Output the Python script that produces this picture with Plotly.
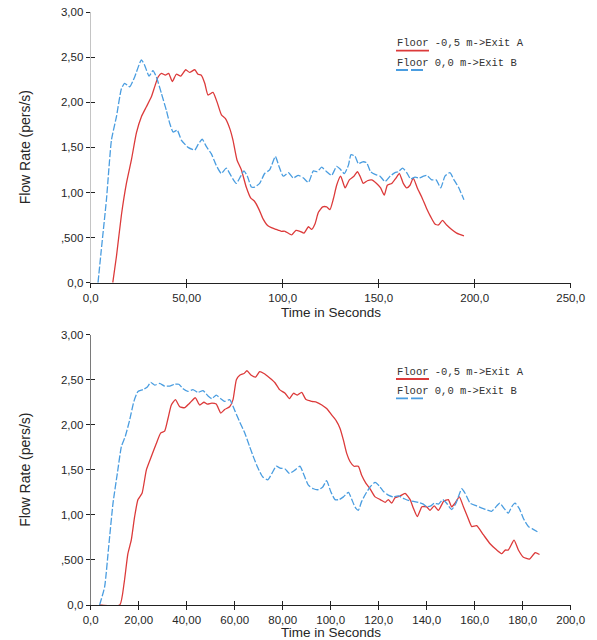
import plotly.graph_objects as go

W, H = 597, 640

# ---------------- data ----------------
top_blue_t = [3.8, 5.5, 8.2, 10.8, 13.4, 16, 17.7, 20.3, 22.9, 26.4, 28.1, 30.4, 32.4, 34.2, 36.8, 39.4, 41.1, 42.9, 45.1, 47.2,
              50.7, 54.2, 55.9, 58.1, 60.2, 62.8, 65.4, 68, 70.6, 73.2, 75.8, 77.6, 79.8, 81.6, 83.7, 85.4, 88, 90.6, 93.2, 96.2,
              97.9, 100.3, 103, 105.5, 108.1, 110.8, 113.4, 116, 118, 120.3, 122.9, 125.5, 128.1, 129.9, 132.1, 134.2, 135.6, 137.7,
              139.4, 141.7, 143.7, 145.8, 148.1, 150.7, 153.3, 155.9, 158.5, 160.2, 162.5, 164.6, 166.7, 168.9, 171.2, 173.3, 175,
              177.6, 179.9, 182.3, 184.5, 187.1, 189.2, 191.5, 194.4]
top_blue_v = [0, 0.36, 0.92, 1.58, 1.84, 2.15, 2.21, 2.17, 2.28, 2.47, 2.41, 2.29, 2.35, 2.28, 2.10, 1.91, 1.77, 1.67, 1.69, 1.58,
              1.50, 1.47, 1.53, 1.59, 1.51, 1.43, 1.30, 1.21, 1.27, 1.18, 1.10, 1.16, 1.24, 1.18, 1.06, 1.06, 1.10, 1.21, 1.25, 1.40,
              1.30, 1.18, 1.22, 1.16, 1.19, 1.16, 1.11, 1.24, 1.23, 1.28, 1.23, 1.19, 1.29, 1.26, 1.21, 1.30, 1.42, 1.40,
              1.32, 1.34, 1.33, 1.23, 1.20, 1.18, 1.12, 1.18, 1.22, 1.23, 1.27, 1.22, 1.15, 1.17, 1.16, 1.18, 1.19,
              1.14, 1.14, 1.05, 1.18, 1.22, 1.14, 1.06, 0.92]

top_red_t = [11.5, 13.4, 16, 18.6, 21.2, 23.8, 26.4, 29, 31.6, 33.3, 35.1, 36.8, 38.9, 40.6, 42.5, 44.6, 46.9, 49.5, 51.5, 54.2,
             55.9, 57.6, 59.4, 61.1, 63.7, 66, 68.1, 70.1, 72.4, 74.1, 76.2, 78.5, 81, 83.3, 85.4, 87.7, 89.7, 92.3, 94.1, 96.6,
             99.3, 101.2, 104.7, 106.9, 109, 111.1, 113.4, 115.1, 116.8, 118.6, 120.8, 122.9, 124.6, 126.4, 128.1, 130.2, 132.5,
             134.7, 137.1, 138.9, 140.3, 142, 144.1, 146.3, 148.9, 151, 152.9, 154.5, 156.8, 159, 160.8, 162.8, 164.6, 166.3,
             168, 170.1, 172.4, 175, 177.1, 179.3, 181.1, 183.2, 185.4, 188, 190.6, 194.4]
top_red_v = [0, 0.29, 0.75, 1.10, 1.36, 1.66, 1.84, 1.95, 2.06, 2.17, 2.28, 2.32, 2.30, 2.32, 2.23, 2.31, 2.29, 2.36, 2.33, 2.36,
             2.31, 2.30, 2.21, 2.08, 2.11, 1.99, 1.86, 1.82, 1.71, 1.58, 1.36, 1.25, 1.06, 0.94, 0.90, 0.81, 0.71, 0.63, 0.61, 0.59,
             0.57, 0.57, 0.53, 0.58, 0.57, 0.55, 0.62, 0.59, 0.65, 0.78, 0.84, 0.84, 0.81, 0.93, 1.08, 1.18, 1.05,
             1.14, 1.18, 1.23, 1.18, 1.10, 1.13, 1.14, 1.10, 1.05, 0.97, 1.08, 1.10, 1.16, 1.21, 1.10, 1.05, 1.08,
             1.16, 1.05, 0.95, 0.82, 0.73, 0.65, 0.64, 0.69, 0.64, 0.59, 0.55, 0.52]

bot_blue_t = [3.7, 5.8, 7.5, 9.3, 11.1, 12.8, 14.4, 16.2, 18.0, 19.7, 21.8, 23.6, 25, 26.7, 28.7, 30.8, 32.9, 35, 36.7, 38.5,
              40.5, 42.6, 44.7, 46.8, 48.9, 50.5, 52.3, 54.2, 55.8, 57.9, 60, 62.1, 64.2, 66.2, 68, 69.7, 71.7, 73.8, 75.5, 77.3,
              78.9, 81, 82.8, 85.2, 87.2, 88.9, 90.7, 92.8, 94.9, 96.7, 98.3, 100, 101.8, 103.6, 105.3, 107.4, 108.8, 110.1,
              111.5, 112.9, 114.7, 116.4, 118.5, 120.3, 122, 124, 126.1, 128.2, 130.6, 132.4, 134.5, 136.5, 138.6, 140, 141.7,
              143.1, 144.9, 146.7, 148.3, 150.4, 152.2, 154.6, 156, 158.1, 160.8, 163.6, 167, 169.2, 170.5, 172.3, 174, 175.4,
              176.8, 178.6, 180.3, 182.4, 184.4, 187]
bot_blue_v = [0, 0.2, 0.65, 1.13, 1.46, 1.76, 1.87, 2.05, 2.26, 2.37, 2.39, 2.42, 2.47, 2.44, 2.46, 2.43, 2.43, 2.45, 2.45, 2.40,
              2.37, 2.39, 2.36, 2.38, 2.32, 2.29, 2.33, 2.29, 2.26, 2.28, 2.16, 2.03, 1.91, 1.76, 1.63, 1.52, 1.42, 1.39, 1.46, 1.54,
              1.52, 1.51, 1.46, 1.50, 1.54, 1.44, 1.33, 1.29, 1.28, 1.31, 1.38, 1.26, 1.17, 1.17, 1.20, 1.25, 1.17, 1.09,
              1.05, 1.15, 1.24, 1.31, 1.36, 1.32, 1.26, 1.22, 1.20, 1.21, 1.18, 1.16, 1.15, 1.14, 1.12, 1.09, 1.10,
              1.13, 1.12, 1.17, 1.13, 1.06, 1.13, 1.29, 1.24, 1.13, 1.10, 1.07, 1.04, 1.10, 1.13, 1.07, 1.02, 1.09,
              1.13, 1.07, 0.96, 0.87, 0.84, 0.80]

bot_red_t = [3.7, 12.1, 13.9, 15.5, 16.9, 18.3, 19.7, 21.4, 23.2, 25.3, 27.3, 29.2, 30.8, 32.2, 33.6, 35.3, 37.1, 39.2, 41.2, 43.6,
             45.4, 47.2, 48.6, 50.5, 52.3, 54.2, 55.8, 57.9, 59.3, 60.7, 62.1, 63.9, 65.1, 66.9, 68.7, 70.4, 72.2, 74.6, 76.7, 78.7,
             81, 82.8, 84.5, 86.1, 87.9, 89.7, 92.1, 94.2, 96.3, 98.3, 100.4, 102.2, 103.9, 105.3, 106.7, 108.1, 109.7, 111.5,
             112.9, 114.7, 116.4, 118.5, 120.6, 122.7, 124, 125.4, 126.8, 128.9, 131, 133.1, 134.5, 136.1, 138, 140, 141.4,
             143.1, 144.9, 147, 149, 150.4, 151.8, 153.6, 155.3, 157, 158.8, 160.8, 163.6, 166.4, 169.2, 171.3, 172.7, 174,
             176.4, 178.2, 180.3, 182.8, 185.2, 187]
bot_red_v = [0, 0, 0.24, 0.57, 0.72, 0.98, 1.17, 1.24, 1.50, 1.65, 1.79, 1.91, 1.93, 2.07, 2.22, 2.28, 2.20, 2.19, 2.24, 2.30,
             2.22, 2.25, 2.23, 2.24, 2.23, 2.13, 2.17, 2.20, 2.28, 2.50, 2.55, 2.57, 2.60, 2.55, 2.53, 2.59, 2.57, 2.52, 2.47, 2.39,
             2.35, 2.29, 2.35, 2.33, 2.36, 2.28, 2.26, 2.25, 2.22, 2.18, 2.11, 2.05, 1.96, 1.83, 1.68, 1.59, 1.54, 1.54,
             1.44, 1.35, 1.29, 1.20, 1.17, 1.14, 1.17, 1.13, 1.19, 1.21, 1.24, 1.17, 1.07, 0.98, 1.09, 1.09, 1.05,
             1.10, 1.05, 1.15, 1.17, 1.09, 1.13, 1.20, 1.09, 0.98, 0.87, 0.88, 0.78, 0.68, 0.61, 0.57, 0.61, 0.61,
             0.72, 0.61, 0.53, 0.51, 0.58, 0.56]

series_names = ["Floor -0,5 m->Exit A", "Floor 0,0 m->Exit B"]
y_tickvals = [0, 0.5, 1.0, 1.5, 2.0, 2.5, 3.0]
y_ticktext = ["0,0", ",500", "1,00", "1,50", "2,00", "2,50", "3,00"]
top_x_tickvals = [0, 50, 100, 150, 200, 250]
top_x_ticktext = ["0,0", "50,00", "100,0", "150,0", "200,0", "250,0"]
bot_x_tickvals = [0, 20, 40, 60, 80, 100, 120, 140, 160, 180, 200]
bot_x_ticktext = ["0,0", "20,00", "40,00", "60,00", "80,00", "100,0", "120,0", "140,0", "160,0", "180,0", "200,0"]
x_title = "Time in Seconds"
y_title = "Flow Rate (pers/s)"

# ---------------- style ----------------
RED = "#dc3a3a"
BLUE = "#4a9de0"
FONT = "Liberation Sans"
TXT = "#262626"

def px(p):
    return p / W

def py(p):
    return 1 - p / H

X0, X1 = 90.7, 570.7
TOP = (12.0, 282.7)
BOT = (334.7, 605.0)

fig = go.Figure()

def add_series(xa, ya, rt, rv, bt, bv):
    fig.add_trace(go.Scatter(x=rt, y=rv, mode="lines", name=series_names[0], xaxis=xa, yaxis=ya,
                             line=dict(color=RED, width=1.3, shape="spline", smoothing=0.5), showlegend=False))
    fig.add_trace(go.Scatter(x=bt, y=bv, mode="lines", name=series_names[1], xaxis=xa, yaxis=ya,
                             line=dict(color=BLUE, width=1.3, dash="7px,2px", shape="spline", smoothing=0.5),
                             showlegend=False))

add_series("x", "y", top_red_t, top_red_v, top_blue_t, top_blue_v)
add_series("x2", "y2", bot_red_t, bot_red_v, bot_blue_t, bot_blue_v)
# dummy traces so that overlay axes (inner tick halves) are drawn
fig.add_trace(go.Scatter(x=[None], y=[None], xaxis="x3", yaxis="y3", showlegend=False, hoverinfo="skip"))
fig.add_trace(go.Scatter(x=[None], y=[None], xaxis="x4", yaxis="y4", showlegend=False, hoverinfo="skip"))

tickfont = dict(family=FONT, size=11.5, color=TXT)
xdom = [px(X0), px(X1)]
common = dict(showgrid=False, zeroline=False, automargin=False, fixedrange=True, tickcolor="#222", tickwidth=1.2,
              ticklen=4)

def xaxis(rng, tv, tt, anchor):
    return dict(domain=xdom, range=rng, tickvals=tv, ticktext=tt, tickfont=tickfont,
                showline=True, linecolor="#222", linewidth=1.2, ticks="outside", anchor=anchor, **common)

def yaxis(dom, anchor, linecolor):
    return dict(domain=dom, range=[0, 3], tickvals=y_tickvals, ticktext=y_ticktext, tickfont=tickfont,
                showline=True, linecolor=linecolor, linewidth=1.2, ticks="outside", anchor=anchor, **common)

def inner_x(rng, tv, overlay, anchor):
    return dict(domain=xdom, range=rng, tickvals=tv, showticklabels=False, showline=False, ticks="inside",
                overlaying=overlay, anchor=anchor, **common)

def inner_y(dom, overlay, anchor):
    return dict(domain=dom, range=[0, 3], tickvals=y_tickvals, showticklabels=False, showline=False,
                ticks="inside", overlaying=overlay, anchor=anchor, **common)

top_dom = [py(TOP[1]), py(TOP[0])]
bot_dom = [py(BOT[1]), py(BOT[0])]

fig.update_layout(
    width=W, height=H, autosize=False,
    margin=dict(l=0, r=0, t=0, b=0, pad=0),
    paper_bgcolor="white", plot_bgcolor="rgba(0,0,0,0)",
    showlegend=False,
    xaxis=xaxis([0, 250], top_x_tickvals, top_x_ticktext, "y"),
    yaxis=yaxis(top_dom, "x", "#c4c4c4"),
    xaxis2=xaxis([0, 200], bot_x_tickvals, bot_x_ticktext, "y2"),
    yaxis2=yaxis(bot_dom, "x2", "#7a7a7a"),
    xaxis3=inner_x([0, 250], top_x_tickvals, "x", "y3"),
    yaxis3=inner_y(top_dom, "y", "x3"),
    xaxis4=inner_x([0, 200], bot_x_tickvals, "x2", "y4"),
    yaxis4=inner_y(bot_dom, "y2", "x4"),
)

ann = []
shapes = []
titlefont = dict(family=FONT, size=14, color=TXT)
xtitlefont = dict(family=FONT, size=13.5, color=TXT)
for (ytop, ybot), leg_y, xt_y in ((TOP, (43.3, 62.7), 312.0), (BOT, (371.7, 391.0), 632.3)):
    ann.append(dict(text=y_title, textangle=-90, x=px(25), y=py((ytop + ybot) / 2), xref="paper", yref="paper",
                    xanchor="center", yanchor="middle", showarrow=False, font=titlefont))
    ann.append(dict(text=x_title, x=px((X0 + X1) / 2), y=py(xt_y), xref="paper", yref="paper",
                    xanchor="center", yanchor="middle", showarrow=False, font=xtitlefont, borderpad=0))
    for name, ly, col, dash, x_end in ((series_names[0], leg_y[0], RED, "solid", 429),
                                       (series_names[1], leg_y[1], BLUE, "12px,3px", 423)):
        ann.append(dict(text=name, x=px(395), y=py(ly), xref="paper", yref="paper", xanchor="left",
                        yanchor="middle", showarrow=False,
                        font=dict(family="Liberation Mono", size=10.5, color="#333")))
        shapes.append(dict(type="line", xref="paper", yref="paper", x0=px(396), x1=px(x_end),
                           y0=py(ly + 7.3), y1=py(ly + 7.3), line=dict(color=col, width=1.8, dash=dash)))

fig.update_layout(annotations=ann, shapes=shapes)

post = ("document.body.style.margin='0';document.body.style.padding='0';"
        "document.body.style.overflow='hidden';document.documentElement.style.overflow='hidden';")
fig.write_html("out.html", post_script=post, config={"responsive": False, "displayModeBar": False})
